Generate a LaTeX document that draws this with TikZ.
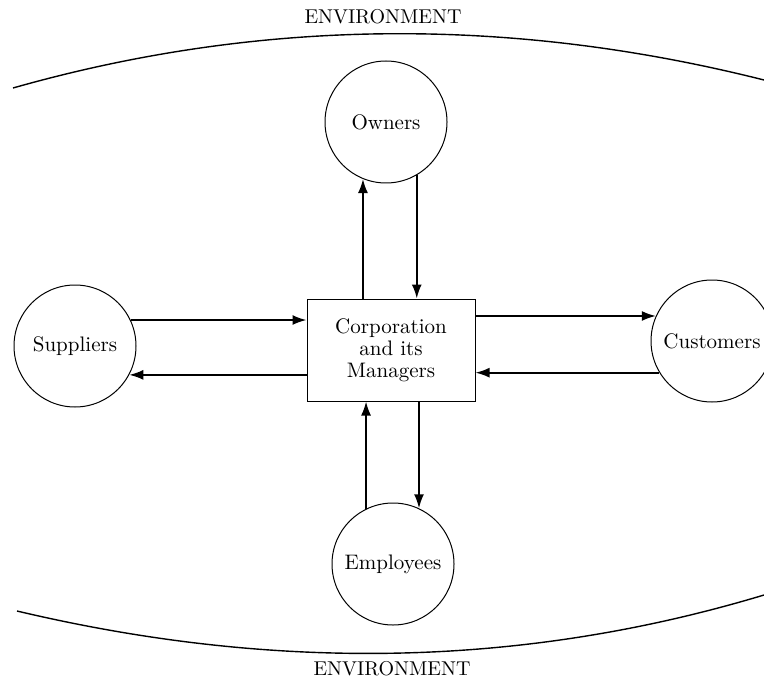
\documentclass[tikz,border=0pt]{standalone}
\usepackage{tikz}
\usetikzlibrary{positioning}
\usetikzlibrary{arrows.meta}

\begin{document}
\begin{tikzpicture}[x=0.5pt, y=-0.5pt, >={Latex[length=7pt,width=5pt]},
party/.style={circle,draw,line width=0.5pt,minimum size=61pt,inner sep=0pt,font=\fontsize{10.5}{12}\selectfont},
firm/.style={rectangle,draw,line width=0.5pt,minimum width=84pt,minimum height=51pt,align=center,font=\fontsize{10.5}{11}\selectfont},
flow/.style={->,line width=0.9pt}]
\useasboundingbox (0,0) rectangle (764,679);

% environment
\draw[line width=0.7pt] (13,88) .. controls (263,17) and (514,17) .. (764,80);
\draw[line width=0.7pt] (17,611) .. controls (266,670) and (515,670) .. (764,595);
\node (envtop) at (383,17) {ENVIRONMENT};
\node (envbot) at (392,669) {ENVIRONMENT};

% parties
\node[party] (own) at (386,122) {Owners};
\node[party] (sup) at (75,346) {Suppliers};
\node[party] (cust) at (712,341) {Customers};
\node[party] (emp) at (393,564) {Employees};

% corporation
\node[firm] (corp) at (391,350) {Corporation\\and its\\Managers};

% flows
\draw[flow] (sup.25) -- (sup.25 -| corp.west);
\draw[flow] (sup.-28 -| corp.west) -- (sup.-28);
\draw[flow] (cust.156 -| corp.east) -- (cust.156);
\draw[flow] (cust.211) -- (cust.211 -| corp.east);
\draw[flow] (own.248 |- corp.north) -- (own.248);
\draw[flow] (own.300) -- (own.300 |- corp.north);
\draw[flow] (emp.116) -- (emp.116 |- corp.south);
\draw[flow] (emp.65 |- corp.south) -- (emp.65);

\end{tikzpicture}
\end{document}
